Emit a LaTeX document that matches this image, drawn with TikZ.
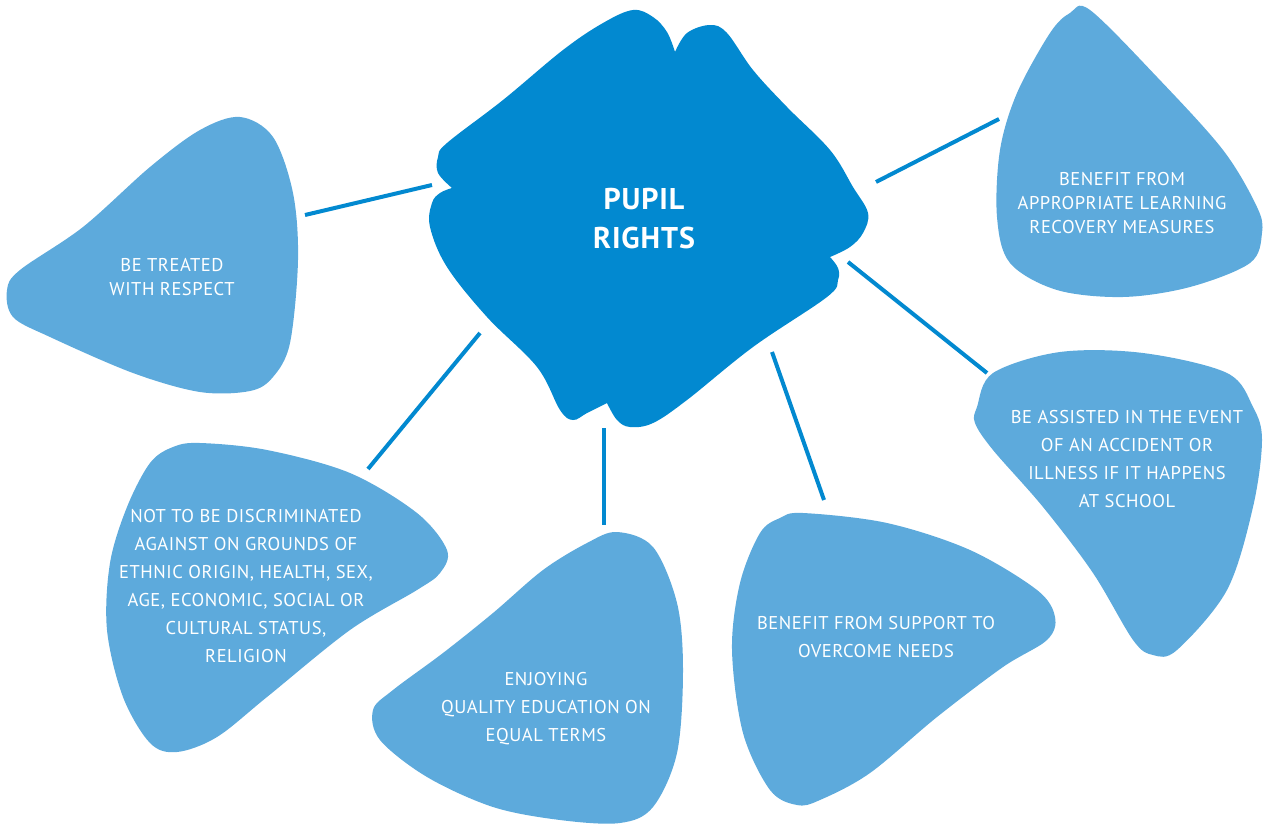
\documentclass[tikz,border=0pt]{standalone}
\usepackage{fontspec}
\setmainfont{PT Sans}[LetterSpace=3]
\definecolor{hubblue}{RGB}{2,137,208}
\definecolor{petalblue}{RGB}{93,170,220}
\begin{document}
\begin{tikzpicture}[x=1pt,y=-1pt,
  petal/.style={fill=petalblue},
  link/.style={draw=hubblue, line width=4pt},
  lbl/.style={text=white, align=center, inner sep=0pt, font=\fontsize{18.5}{28}\selectfont},
  lbltight/.style={lbl, font=\fontsize{18.5}{24}\selectfont}]
\useasboundingbox (0,0) rectangle (1263,827);

% centre blob
\fill[hubblue] (675,52)
  -- plot[smooth, tension=0.6] coordinates {(675,52) (687,33) (710,25) (727,33) (753,70) (787,107) (830,150) (853,187) (868,213) (863,233) (850,247) (830,257)}
  -- plot[smooth, tension=0.6] coordinates {(830,257) (838,268) (838,280) (827,297) (753,347) (687,400) (653,423) (630,427) (617,420) (607,403)}
  -- plot[smooth, tension=0.6] coordinates {(607,403) (587,413) (573,420) (560,410) (537,367) (487,317) (447,267) (430,227) (432,203) (440,193) (452,188)}
  -- plot[smooth, tension=0.6] coordinates {(452,188) (438,173) (438,157) (447,143) (503,100) (563,50) (603,23) (633,10) (653,17) (667,32) (675,52)}
  -- cycle;

% petals
\fill[petal] plot[smooth cycle, tension=0.55] coordinates {(7,290) (20,270) (83,227) (150,167) (200,130) (240,117) (273,137) (293,193) (298,260) (290,343) (273,377) (250,391) (200,392) (133,373) (50,337) (13,317)};
\fill[petal] plot[smooth cycle, tension=0.55] coordinates {(1090,10) (1157,77) (1223,150) (1257,207) (1262,233) (1250,263) (1190,287) (1123,297) (1057,290) (1010,263) (997,217) (1000,150) (1017,93) (1050,33) (1070,13)};
\fill[petal] plot[smooth cycle, tension=0.55] coordinates {(977,407) (993,373) (1060,352) (1143,353) (1227,373) (1253,407) (1262,440) (1253,507) (1227,590) (1177,650) (1153,655) (1133,640) (1093,573) (1043,507) (993,450) (975,423)};
\fill[petal] plot[smooth cycle, tension=0.55] coordinates {(200,443) (267,450) (350,473) (417,513) (447,550) (440,573) (417,590) (350,630) (267,697) (217,737) (177,752) (150,743) (123,697) (107,630) (110,563) (127,507) (150,463) (173,447)};
\fill[petal] plot[smooth cycle, tension=0.55] coordinates {(617,532) (653,547) (677,603) (683,670) (677,753) (653,807) (620,823) (560,820) (493,807) (427,777) (380,740) (373,710) (393,690) (443,653) (493,613) (543,570) (587,543)};
\fill[petal] plot[smooth cycle, tension=0.55] coordinates {(803,513) (887,523) (970,550) (1037,590) (1055,617) (1047,640) (1003,667) (937,717) (870,773) (820,800) (797,805) (770,790) (743,733) (732,650) (740,583) (760,533) (780,518)};

% connector end points
\coordinate (hA) at (432,185); \coordinate (pA) at (305,215);
\coordinate (hB) at (876,182); \coordinate (pB) at (999,119);
\coordinate (hC) at (848,262); \coordinate (pC) at (987,373);
\coordinate (hF) at (772,352); \coordinate (pF) at (824,500);
\coordinate (hE) at (604,428); \coordinate (pE) at (604,525);
\coordinate (hD) at (480,333); \coordinate (pD) at (368,469);
\draw[link] (hA) -- (pA);
\draw[link] (hB) -- (pB);
\draw[link] (hC) -- (pC);
\draw[link] (hF) -- (pF);
\draw[link] (hE) -- (pE);
\draw[link] (hD) -- (pD);

% labels
\node[text=white, align=center, inner sep=0pt, font=\bfseries\fontsize{30}{39}\selectfont] (hub) at (644,219) {PUPIL\\RIGHTS};
\node[lbltight] (tA) at (172,277) {BE TREATED\\WITH RESPECT};
\node[lbltight] (tB) at (1122,203) {BENEFIT FROM\\APPROPRIATE LEARNING\\RECOVERY MEASURES};
\node[lbl] (tC) at (1127,459) {BE ASSISTED IN THE EVENT\\OF AN ACCIDENT OR\\ILLNESS IF IT HAPPENS\\AT SCHOOL};
\node[lbl] (tD) at (246,586) {NOT TO BE DISCRIMINATED\\AGAINST ON GROUNDS OF\\ETHNIC ORIGIN, HEALTH, SEX,\\AGE, ECONOMIC, SOCIAL OR\\CULTURAL STATUS,\\RELIGION};
\node[lbl] (tE) at (546,709) {ENJOYING\\QUALITY EDUCATION ON\\EQUAL TERMS};
\node[lbl] (tF) at (876,637) {BENEFIT FROM SUPPORT TO\\OVERCOME NEEDS};
\end{tikzpicture}
\end{document}
